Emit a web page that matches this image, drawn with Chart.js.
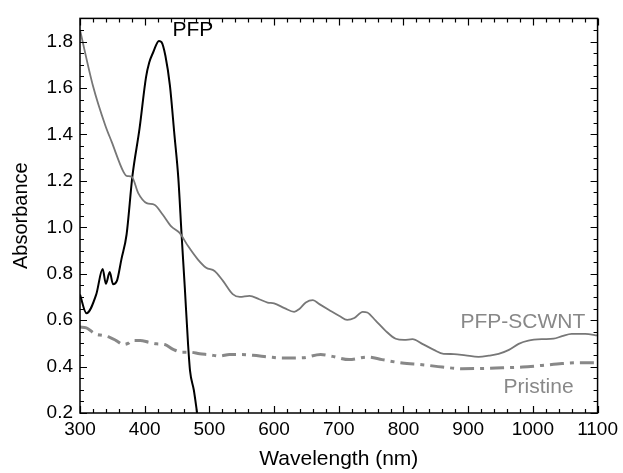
<!DOCTYPE html>
<html>
<head>
<meta charset="utf-8">
<script src="https://cdn.jsdelivr.net/npm/chart.js@4.4.1/dist/chart.umd.min.js"></script>
<style>
  body { margin: 0; background: #fff; }
</style>
</head>
<body>
<canvas id="chart" width="623" height="473"></canvas>
<script>
// Wavelength (nm) and absorbance
const pfpX = [300, 310, 325, 335, 340, 346, 351, 357, 364, 372, 381, 392, 402, 407, 413, 422, 426, 432, 439, 446, 452, 457, 462, 467, 470, 476, 481];
const pfpY = [0.71, 0.63, 0.71, 0.82, 0.757, 0.807, 0.755, 0.769, 0.862, 0.969, 1.22, 1.425, 1.646, 1.71, 1.753, 1.803, 1.798, 1.739, 1.61, 1.397, 1.211, 0.969, 0.74, 0.498, 0.384, 0.298, 0.2];

const scwntX = [300, 320, 339, 349, 367, 372, 380, 390, 403, 415, 428, 441, 454, 467, 482, 495, 508, 521, 536, 547, 562, 577, 590, 600, 616, 631, 639, 649, 660, 670, 685, 701, 713, 724, 737, 744, 757, 772, 788, 801, 814, 829, 847, 862, 878, 896, 916, 932, 947, 963, 978, 993, 1014, 1032, 1045, 1060, 1081, 1100];
const scwntY = [1.85, 1.61, 1.44, 1.368, 1.24, 1.222, 1.218, 1.147, 1.104, 1.097, 1.054, 1.004, 0.976, 0.919, 0.862, 0.826, 0.812, 0.769, 0.712, 0.70, 0.705, 0.69, 0.676, 0.672, 0.652, 0.636, 0.648, 0.676, 0.686, 0.669, 0.644, 0.618, 0.601, 0.609, 0.636, 0.633, 0.598, 0.555, 0.52, 0.515, 0.518, 0.498, 0.472, 0.455, 0.454, 0.448, 0.442, 0.447, 0.455, 0.472, 0.498, 0.512, 0.518, 0.52, 0.531, 0.541, 0.541, 0.534];

const pristineX = [300, 310, 323, 336, 346, 356, 367, 375, 380, 393, 406, 418, 431, 444, 457, 470, 485, 500, 516, 531, 549, 567, 593, 613, 644, 672, 690, 716, 744, 767, 798, 829, 860, 891, 922, 953, 984, 1014, 1045, 1076, 1100];
const pristineY = [0.57, 0.567, 0.541, 0.534, 0.526, 0.512, 0.495, 0.501, 0.512, 0.512, 0.505, 0.498, 0.495, 0.474, 0.462, 0.462, 0.455, 0.451, 0.445, 0.452, 0.452, 0.449, 0.441, 0.437, 0.438, 0.452, 0.444, 0.43, 0.441, 0.43, 0.415, 0.408, 0.398, 0.391, 0.392, 0.395, 0.398, 0.405, 0.413, 0.417, 0.417];

const xTicks = [300, 400, 500, 600, 700, 800, 900, 1000, 1100];
const yTicks = [0.2, 0.4, 0.6, 0.8, 1.0, 1.2, 1.4, 1.6, 1.8];

// curve labels: text, anchor x (nm), anchor y (absorbance)
const labelTexts = ['PFP', 'PFP-SCWNT', 'Pristine'];
const labelX = [443, 1081, 1063];
const labelY = [1.825, 0.568, 0.286];

const FONT = 'Arial, "Liberation Sans", sans-serif';

function toPoints(xs, ys) {
    return xs.map((x, i) => ({ x: x, y: ys[i] }));
}

// frame with inward ticks on all four sides, plus curve labels
const framePlugin = {
    id: 'frame',
    afterDraw(chart) {
        const ctx = chart.ctx;
        const xs = chart.scales.x, ys = chart.scales.y;
        const a = chart.chartArea;
        ctx.save();
        ctx.strokeStyle = '#000';
        ctx.lineWidth = 1.5;
        ctx.strokeRect(a.left, a.top, a.right - a.left, a.bottom - a.top);

        ctx.lineWidth = 1.2;
        ctx.beginPath();
        for (let v = 300; v <= 1100; v += 20) {
            const px = Math.round(xs.getPixelForValue(v)) + 0.5;
            const len = (v % 100 === 0) ? 7 : 4;
            ctx.moveTo(px, a.bottom); ctx.lineTo(px, a.bottom - len);
            ctx.moveTo(px, a.top); ctx.lineTo(px, a.top + len);
        }
        for (let i = 0; i <= 34; i++) {
            const v = 0.2 + i * 0.05;
            const py = Math.round(ys.getPixelForValue(v)) + 0.5;
            const len = (i % 4 === 0) ? 7 : 4;
            ctx.moveTo(a.left, py); ctx.lineTo(a.left + len, py);
            ctx.moveTo(a.right, py); ctx.lineTo(a.right - len, py);
        }
        ctx.stroke();

        ctx.font = '21px ' + FONT;
        ctx.textBaseline = 'alphabetic';
        labelTexts.forEach((t, i) => {
            ctx.fillStyle = i === 0 ? '#000' : '#888';
            ctx.textAlign = i === 0 ? 'left' : 'right';
            ctx.fillText(t, xs.getPixelForValue(labelX[i]), ys.getPixelForValue(labelY[i]));
        });
        ctx.restore();
    }
};

new Chart(document.getElementById('chart').getContext('2d'), {
    type: 'line',
    data: {
        datasets: [
            {
                label: 'Pristine',
                data: toPoints(pristineX, pristineY),
                borderColor: '#888',
                borderWidth: 3,
                borderDash: [14, 6, 4, 6],
                pointRadius: 0,
                cubicInterpolationMode: 'monotone'
            },
            {
                label: 'PFP-SCWNT',
                data: toPoints(scwntX, scwntY),
                borderColor: '#777',
                borderWidth: 1.8,
                pointRadius: 0,
                cubicInterpolationMode: 'monotone'
            },
            {
                label: 'PFP',
                data: toPoints(pfpX, pfpY),
                borderColor: '#000',
                borderWidth: 2,
                pointRadius: 0,
                cubicInterpolationMode: 'monotone'
            }
        ]
    },
    options: {
        responsive: false,
        animation: false,
        layout: { padding: { top: 16, right: 24, left: 0, bottom: 0 } },
        plugins: {
            legend: { display: false },
            tooltip: { enabled: false }
        },
        scales: {
            x: {
                type: 'linear',
                min: 300,
                max: 1100,
                grid: { display: false, drawTicks: false },
                border: { display: false },
                afterBuildTicks: s => { s.ticks = xTicks.map(v => ({ value: v })); },
                afterFit: s => { s.height = 60; },
                ticks: {
                    color: '#000',
                    font: { family: FONT, size: 19 },
                    padding: 5,
                    maxRotation: 0,
                    autoSkip: false,
                    callback: v => String(v)
                },
                title: {
                    display: true,
                    text: 'Wavelength (nm)',
                    color: '#000',
                    font: { family: FONT, size: 21 },
                    padding: { top: 0, bottom: 1 }
                }
            },
            y: {
                type: 'linear',
                min: 0.2,
                max: 1.9,
                grid: { display: false, drawTicks: false },
                border: { display: false },
                afterBuildTicks: s => { s.ticks = yTicks.map(v => ({ value: v })); },
                afterFit: s => { s.width = 80; },
                ticks: {
                    color: '#000',
                    font: { family: FONT, size: 19 },
                    padding: 7,
                    callback: v => v.toFixed(1)
                },
                title: {
                    display: true,
                    text: 'Absorbance',
                    color: '#000',
                    font: { family: FONT, size: 20 },
                    padding: { top: 9, bottom: 0 }
                }
            }
        }
    },
    plugins: [framePlugin]
});
</script>
</body>
</html>
